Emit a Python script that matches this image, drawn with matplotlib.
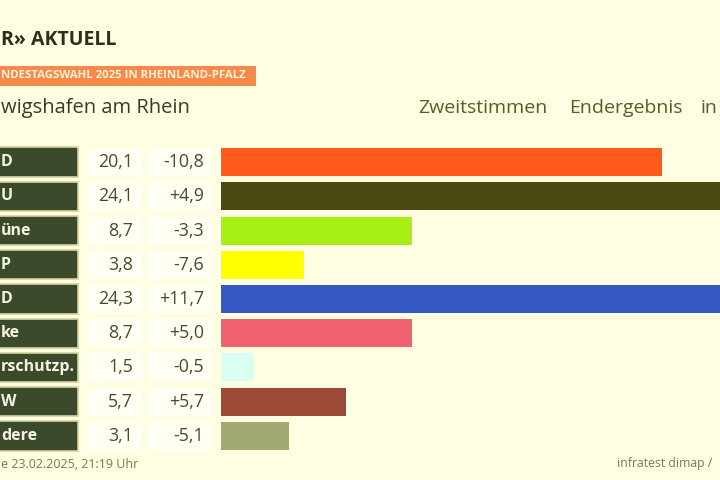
import matplotlib.pyplot as plt
from matplotlib.patches import Rectangle

# Zweitstimmen Ludwigshafen am Rhein, BTW 2025 (labels as visible in the cropped screenshot)
parties = ["D", "U", "üne", "P", "D", "ke", "rschutzp.", "W", "dere"]
shares = [20.1, 24.1, 8.7, 3.8, 24.3, 8.7, 1.5, 5.7, 3.1]
changes = ["-10,8", "+4,9", "-3,3", "-7,6", "+11,7", "+5,0", "-0,5", "+5,7", "-5,1"]
colors = ["#ff5a1a", "#4a4a12", "#a8f014", "#ffff00", "#3458c2",
          "#f06272", "#d8fff2", "#9a4a36", "#a2a872"]

W, H = 720, 480
bg = "#fffee2"
plt.rcParams['font.family'] = ['Open Sans', 'DejaVu Sans']

fig = plt.figure(figsize=(7.2, 4.8), dpi=100, facecolor=bg)

def fx(px):
    return px / W

def fy(py):
    return 1 - py / H

# header
fig.text(fx(1), fy(40), "R\u00bb AKTUELL", fontsize=14, fontweight='bold',
         color="#2c2e1e", va='center', ha='left')
fig.patches.append(Rectangle((0, fy(86)), fx(256), 20 / H, transform=fig.transFigure,
                             facecolor="#f7894a", edgecolor='none'))
fig.text(fx(1), fy(76), "NDESTAGSWAHL 2025 IN RHEINLAND-PFALZ", fontsize=8.2,
         fontweight='bold', color="#fff3d8", va='center', ha='left')
fig.text(fx(1), fy(108), "wigshafen am Rhein", fontsize=14.5, color="#3a3a2a",
         va='center', ha='left')
for word, px in [("Zweitstimmen", 418), ("Endergebnis", 569), ("in", 700)]:
    fig.text(fx(px), fy(108), word, fontsize=14, color="#5a5a28",
             va='center', ha='left')

# footer
fig.text(fx(1), fy(464), "e 23.02.2025, 21:19 Uhr", fontsize=9, color="#7a7a4a",
         va='center', ha='left')
fig.text(fx(617), fy(464), "infratest dimap /", fontsize=8.8, color="#7a7a4a",
         va='center', ha='left')

# main table + bars
px_per_pct = 21.94
x0 = 221
ax = fig.add_axes([0, fy(453), 1, 308 / H])
ax.set_facecolor('none')
ax.set_xlim(-x0 / px_per_pct, (W - x0) / px_per_pct)
ax.set_ylim(len(parties) - 0.5, -0.5)
ax.axis('off')

ypos = list(range(len(parties)))
ax.barh(ypos, shares, height=0.82, color=colors, edgecolor='none')

tr = ax.get_yaxis_transform()
for i, (p, s, c) in enumerate(zip(parties, shares, changes)):
    ax.add_patch(Rectangle((fx(-40), i - 0.43), fx(118), 0.86, transform=tr,
                           facecolor="#3b4a2a", edgecolor="#d6d2a0", lw=1.2, clip_on=False))
    ax.text(fx(1), i, p, transform=tr, fontsize=11.5, fontweight='bold',
            color="#f4f4e4", va='center', ha='left', clip_on=False)
    ax.add_patch(Rectangle((fx(88), i - 0.41), fx(54), 0.82, transform=tr,
                           facecolor="#fffff4", edgecolor='none'))
    ax.add_patch(Rectangle((fx(148), i - 0.41), fx(63), 0.82, transform=tr,
                           facecolor="#fffff4", edgecolor='none'))
    ax.text(fx(133), i, f"{s:.1f}".replace(".", ","), transform=tr, fontsize=12.8,
            color="#4a4a2a", va='center', ha='right')
    ax.text(fx(204), i, c, transform=tr, fontsize=12.8,
            color="#4a4a2a", va='center', ha='right')

fig.savefig("out.png", dpi=100, facecolor=bg)
